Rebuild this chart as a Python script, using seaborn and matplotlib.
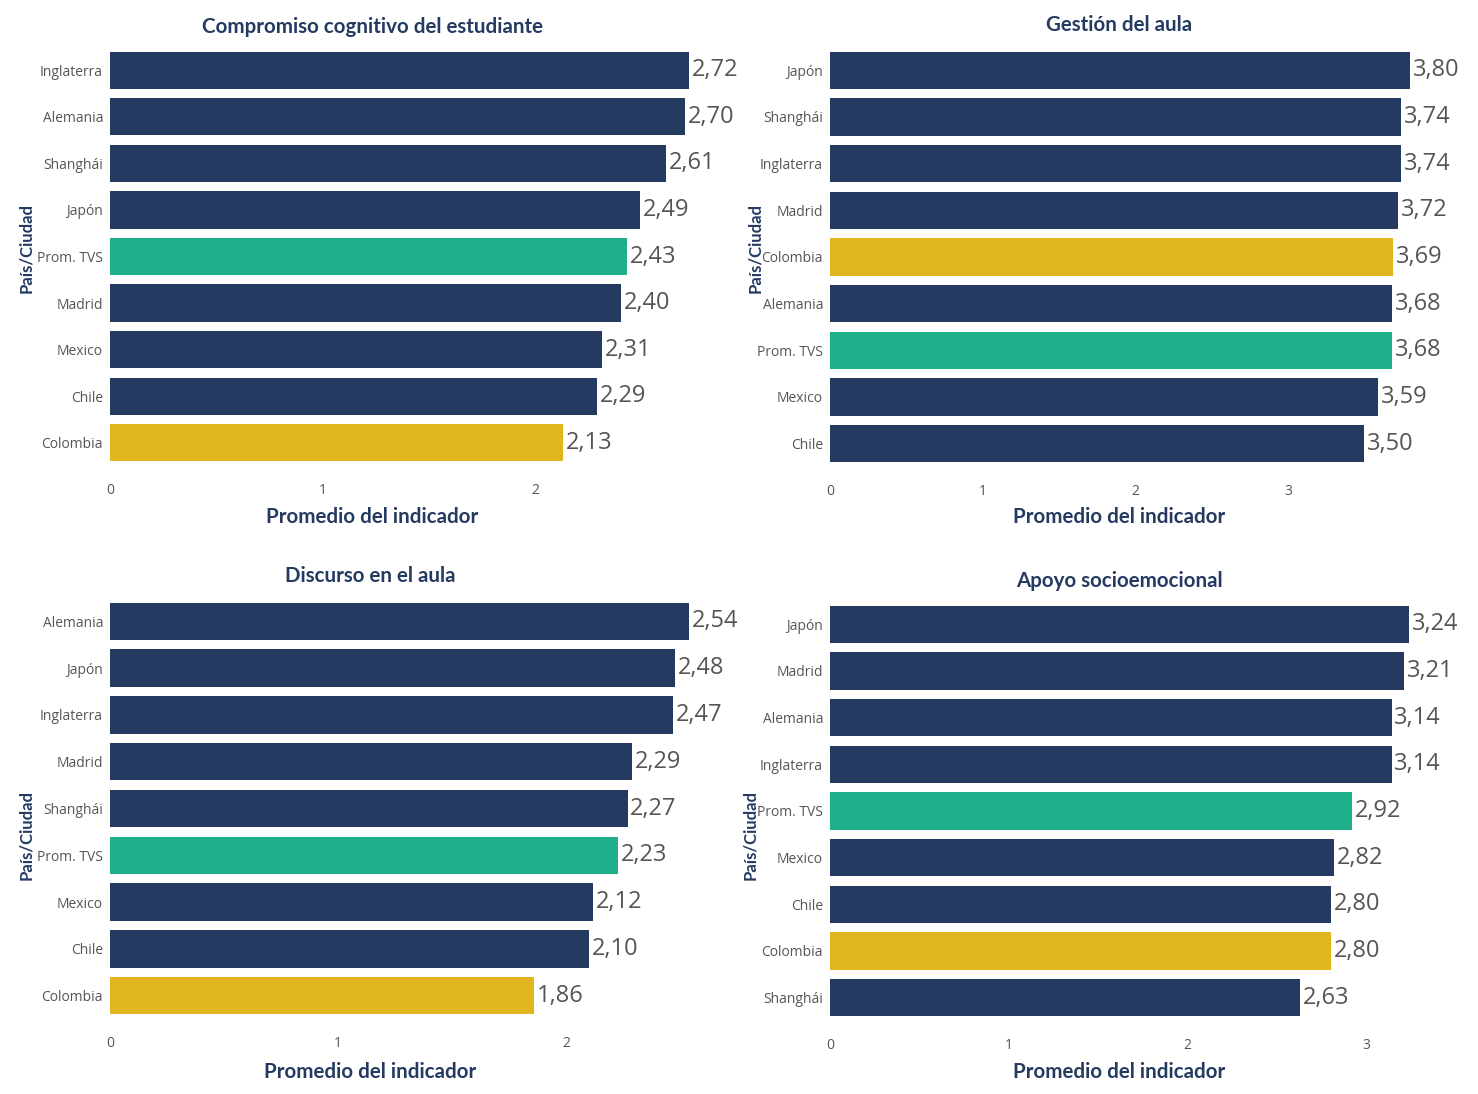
import matplotlib
matplotlib.use("Agg")
import matplotlib.pyplot as plt
import seaborn as sns
import pandas as pd

# ---- data ----
t1 = "Compromiso cognitivo del estudiante"
c1 = ["Inglaterra", "Alemania", "Shanghái", "Japón", "Prom. TVS", "Madrid", "Mexico", "Chile", "Colombia"]
v1 = [2.72, 2.70, 2.61, 2.49, 2.43, 2.40, 2.31, 2.29, 2.13]

t2 = "Gestión del aula"
c2 = ["Japón", "Shanghái", "Inglaterra", "Madrid", "Colombia", "Alemania", "Prom. TVS", "Mexico", "Chile"]
v2 = [3.80, 3.74, 3.74, 3.72, 3.69, 3.68, 3.68, 3.59, 3.50]

t3 = "Discurso en el aula"
c3 = ["Alemania", "Japón", "Inglaterra", "Madrid", "Shanghái", "Prom. TVS", "Mexico", "Chile", "Colombia"]
v3 = [2.54, 2.48, 2.47, 2.29, 2.27, 2.23, 2.12, 2.10, 1.86]

t4 = "Apoyo socioemocional"
c4 = ["Japón", "Madrid", "Alemania", "Inglaterra", "Prom. TVS", "Mexico", "Chile", "Colombia", "Shanghái"]
v4 = [3.24, 3.21, 3.14, 3.14, 2.92, 2.82, 2.80, 2.80, 2.63]

x_label = "Promedio del indicador"
y_label = "País/Ciudad"

NAVY = "#243A61"
GREEN = "#1FAF8A"
YELLOW = "#E1B51F"
GRAY = "#555555"

sns.set_theme(style="white")
plt.rcParams["font.family"] = ["Open Sans", "DejaVu Sans"]

W, H = 1478, 1094
fig = plt.figure(figsize=(W / 100, H / 100), dpi=100)

def fx(px):
    return px / W

def fy(py):
    return 1 - py / H

panels = [
    (t1, c1, v1, 110, 738, 47, 466, 2.95, 372, 27, 517, 26, 248),
    (t2, c2, v2, 830, 1433, 47, 467, 3.95, 1119, 25, 517, 755, 248),
    (t3, c3, v3, 110, 737, 598, 1019, 2.75, 370, 576, 1072, 26, 835),
    (t4, c4, v4, 830, 1456, 601, 1021, 3.50, 1119, 581, 1072, 750, 835),
]

HEAD = ["Lato", "Open Sans", "DejaVu Sans"]

def color_for(name):
    if name == "Prom. TVS":
        return GREEN
    if name == "Colombia":
        return YELLOW
    return NAVY

for (title, cats, vals, l, r, t, b, xmax, tcx, ty, xly, ylx, yly) in panels:
    ax = fig.add_axes([fx(l), fy(b), fx(r - l), (b - t) / H])
    df = pd.DataFrame({"cat": cats, "val": vals})
    pal = {c: color_for(c) for c in cats}
    sns.barplot(data=df, y="cat", x="val", hue="cat", palette=pal, order=cats,
                hue_order=cats, dodge=False, legend=False, width=0.8,
                saturation=1, linewidth=0, edgecolor="none", ax=ax)
    for cont in ax.containers:
        labs = [f"{bar.get_width():.2f}".replace(".", ",") for bar in cont]
        ax.bar_label(cont, labels=labs, padding=2, fontsize=17, color=GRAY)
    ax.set_xlim(0, xmax)
    ax.set_ylim(len(cats) - 0.5, -0.5)
    ax.set_xlabel("")
    ax.set_ylabel("")
    for s in ax.spines.values():
        s.set_visible(False)
    ax.grid(False)
    ax.tick_params(axis="x", length=0, pad=12, labelsize=10, labelcolor=GRAY)
    ax.tick_params(axis="y", length=0, pad=5, labelsize=10, labelcolor=GRAY)
    ticks = list(range(0, int(xmax) + 1))
    ax.set_xticks(ticks)
    ax.set_xticklabels([str(v) for v in ticks])

    fig.text(fx(tcx), fy(ty), title, ha="center", va="center", fontsize=14.8,
             fontweight="bold", color=NAVY, family=HEAD)
    fig.text(fx(tcx), fy(xly), x_label, ha="center", va="center", fontsize=14.8,
             fontweight="bold", color=NAVY, family=HEAD)
    fig.text(fx(ylx), fy(yly), y_label, ha="center", va="center", fontsize=12,
             fontweight="bold", color=NAVY, rotation=90, family=HEAD)

fig.savefig("out.png", dpi=100)
